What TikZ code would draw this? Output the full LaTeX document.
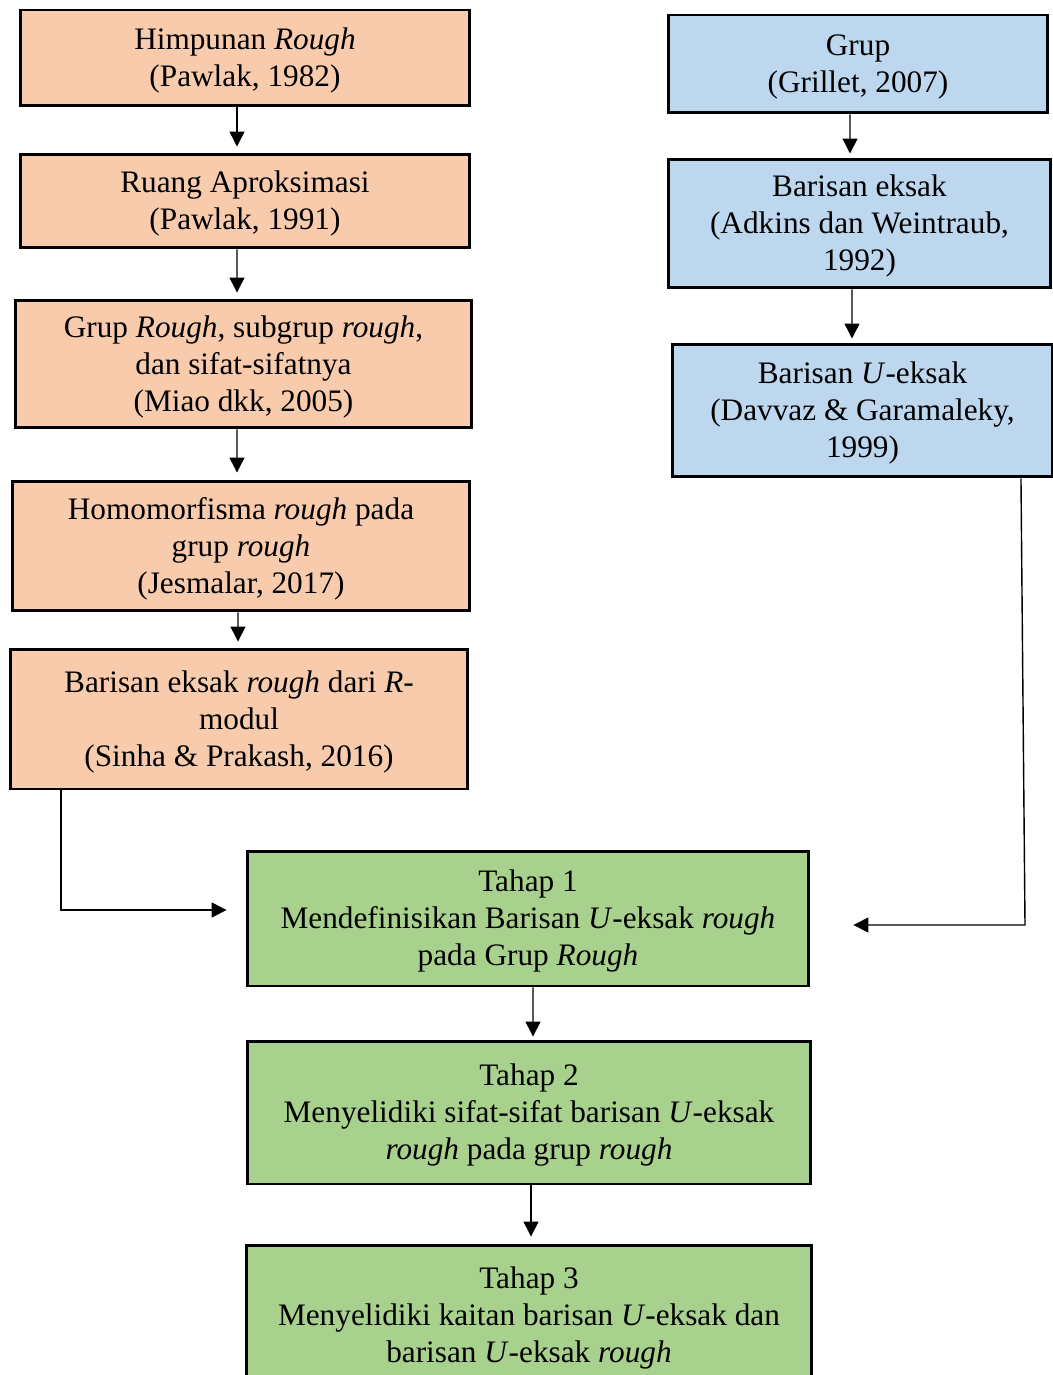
\documentclass[tikz,border=0pt]{standalone}
\usepackage{fontspec}
\setmainfont{Liberation Serif}
\usetikzlibrary{arrows.meta}
\definecolor{boxorange}{HTML}{F8CBAD}
\definecolor{boxblue}{HTML}{BDD7EE}
\definecolor{boxgreen}{HTML}{A9D18E}
\newcommand\firstline{\rule{0pt}{15.5pt}}
\tikzset{
  box/.style={draw=black, line width=1.7pt, rectangle, align=center, inner sep=0pt,
    font=\fontsize{17.8pt}{21pt}\selectfont},
  obox/.style={box, fill=boxorange},
  bbox/.style={box, fill=boxblue},
  gbox/.style={box, fill=boxgreen},
  arr/.style={line width=0.8pt, -{Triangle[length=0.3cm,width=0.3cm]}}
}
\begin{document}
\begin{tikzpicture}[x=0.02cm,y=-0.02cm]
\useasboundingbox (0,0) rectangle (1053,1375);
\clip (0,0) rectangle (1053,1375);
% orange column
\node[obox, minimum width=9cm, minimum height=1.92cm] (b1) at (245,58) {\firstline Himpunan \textit{Rough}\\(Pawlak, 1982)};
\node[obox, minimum width=9cm, minimum height=1.88cm] (b2) at (245,201) {\firstline Ruang Aproksimasi\\(Pawlak, 1991)};
\node[obox, minimum width=9.14cm, minimum height=2.56cm] (b3) at (243.5,364) {\firstline Grup \textit{Rough}, subgrup \textit{rough},\\dan sifat-sifatnya\\(Miao dkk, 2005)};
\node[obox, minimum width=9.16cm, minimum height=2.6cm] (b4) at (241,546) {\firstline Homomorfisma \textit{rough} pada\\grup \textit{rough}\\(Jesmalar, 2017)};
\node[obox, minimum width=9.16cm, minimum height=2.8cm] (b5) at (239,719) {\firstline Barisan eksak \textit{rough} dari \textit{R}-\\modul\\(Sinha \& Prakash, 2016)};
% blue column
\node[bbox, minimum width=7.6cm, minimum height=1.96cm] (b6) at (858,64) {\firstline Grup\\(Grillet, 2007)};
\node[bbox, minimum width=7.66cm, minimum height=2.58cm] (b7) at (859.5,223.5) {\firstline Barisan eksak\\(Adkins dan Weintraub,\\1992)};
\node[bbox, minimum width=7.62cm, minimum height=2.66cm] (b8) at (862.5,410.5) {\firstline Barisan \textit{U}-eksak\\(Davvaz \& Garamaleky,\\1999)};
% green stages
\node[gbox, minimum width=11.24cm, minimum height=2.7cm] (b9) at (528,918.5) {\firstline Tahap 1\\Mendefinisikan Barisan \textit{U}-eksak \textit{rough}\\pada Grup \textit{Rough}};
\node[gbox, minimum width=11.28cm, minimum height=2.86cm] (b10) at (529,1112.5) {\firstline Tahap 2\\Menyelidiki sifat-sifat barisan \textit{U}-eksak\\\textit{rough} pada grup \textit{rough}};
\node[gbox, minimum width=11.32cm, minimum height=2.8cm] (b11) at (529,1315) {\firstline Tahap 3\\Menyelidiki kaitan barisan \textit{U}-eksak dan\\barisan \textit{U}-eksak \textit{rough}};
% arrows
\draw[arr] ([xshift=-0.16cm]b1.south) -- ([xshift=-0.16cm,yshift=0.12cm]b2.north);
\draw[arr] ([xshift=-0.16cm]b2.south) -- ([xshift=-0.13cm,yshift=0.12cm]b3.north);
\draw[arr] ([xshift=-0.13cm]b3.south) -- ([xshift=-0.08cm,yshift=0.14cm]b4.north);
\draw[arr] ([xshift=-0.06cm]b4.south) -- ([xshift=-0.02cm,yshift=0.12cm]b5.north);
\draw[arr] ([xshift=-0.16cm]b6.south) -- ([xshift=-0.19cm,yshift=0.08cm]b7.north);
\draw[arr] ([xshift=-0.15cm]b7.south) -- ([xshift=-0.21cm,yshift=0.08cm]b8.north);
\draw[arr] ([xshift=-3.56cm]b5.south) |- ([xshift=-0.38cm,yshift=0.17cm]b9.west);
\coordinate (rc) at (1025,925);
\draw[arr] ([xshift=3.17cm]b8.south) -- (rc) -- ([xshift=0.86cm,yshift=-0.13cm]b9.east);
\draw[arr] ([xshift=0.1cm]b9.south) -- ([xshift=0.08cm,yshift=0.06cm]b10.north);
\draw[arr] ([xshift=0.04cm]b10.south) -- ([xshift=0.04cm,yshift=0.14cm]b11.north);
\end{tikzpicture}
\end{document}
